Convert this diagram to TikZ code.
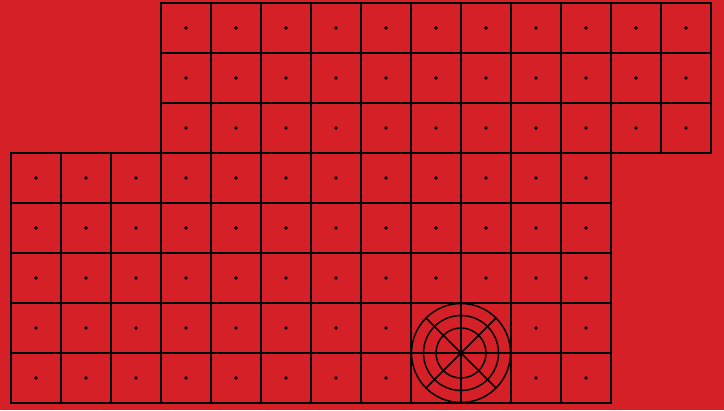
\documentclass[tikz,border=0pt]{standalone}
\usetikzlibrary{calc}
\begin{document}
\begin{tikzpicture}[x=1bp,y=-1bp,
  cellbox/.style={draw=black,line width=1.8bp},
  dotmark/.style={fill=black,draw=none},
  ringline/.style={draw=black,line width=1.5bp}]
\definecolor{bgred}{RGB}{213,32,39}
\fill[bgred] (0,0) rectangle (724,410);
\useasboundingbox (0,0) rectangle (724,410);
\def\s{50}
\def\xo{11}
\def\yo{3}
% top block: columns 3..13, rows 0..2
\foreach \i in {3,...,13}{
  \foreach \j in {0,1,2}{
    \draw[cellbox] ({\xo+\i*\s},{\yo+\j*\s}) rectangle ({\xo+(\i+1)*\s},{\yo+(\j+1)*\s});
    \fill[dotmark] ({\xo+(\i+0.5)*\s},{\yo+(\j+0.5)*\s}) circle (1.8);
  }
}
% bottom block: columns 0..11, rows 3..7
\foreach \i in {0,...,11}{
  \foreach \j in {3,...,7}{
    \draw[cellbox] ({\xo+\i*\s},{\yo+\j*\s}) rectangle ({\xo+(\i+1)*\s},{\yo+(\j+1)*\s});
  }
}
\foreach \i in {0,...,11}{
  \foreach \j in {3,...,7}{
    \pgfmathtruncatemacro{\skipcell}{((\i==8 || \i==9) && (\j==6 || \j==7)) ? 1 : 0}
    \ifnum\skipcell=0
      \fill[dotmark] ({\xo+(\i+0.5)*\s},{\yo+(\j+0.5)*\s}) circle (1.8);
    \fi
  }
}
% target symbol
\coordinate (c) at ({\xo+9*\s},{\yo+7*\s});
\draw[ringline] (c) circle (49.5);
\draw[ringline] (c) circle (37.5);
\draw[ringline] (c) circle (25);
\draw[ringline] ($(c)+(-35,-35)$) -- ($(c)+(35,35)$);
\draw[ringline] ($(c)+(35,-35)$) -- ($(c)+(-35,35)$);
\fill[dotmark] (c) circle (2.2);
\end{tikzpicture}
\end{document}
